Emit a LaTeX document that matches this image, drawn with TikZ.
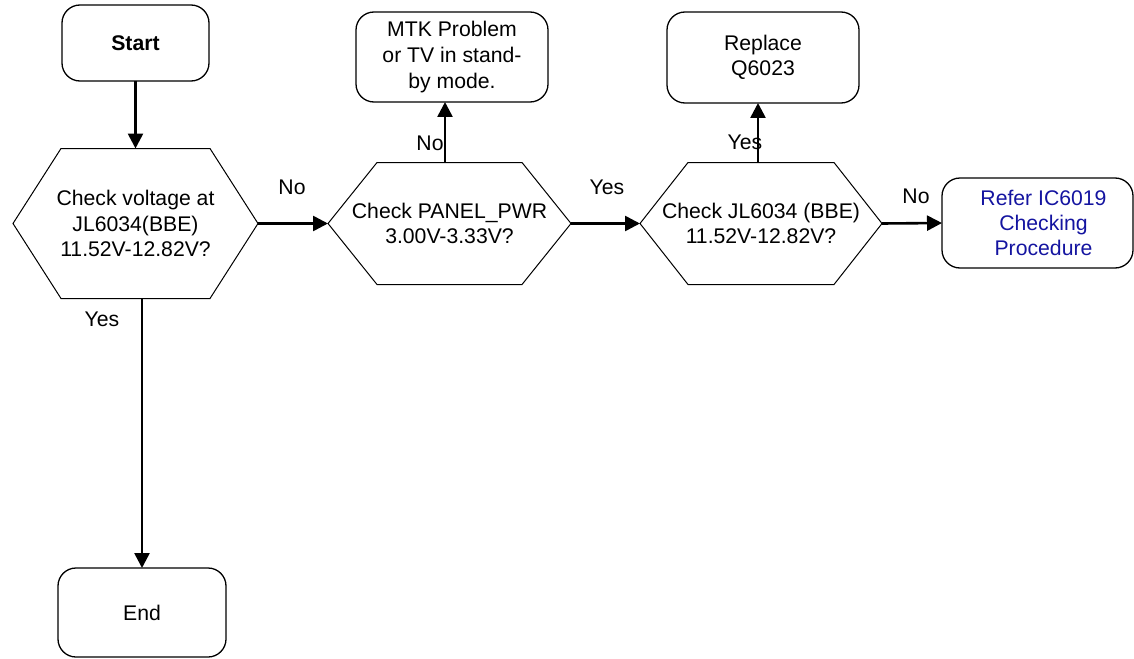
\documentclass[tikz,border=0pt]{standalone}
\usepackage{fontspec}
\setmainfont{Liberation Sans}
\usetikzlibrary{arrows.meta}
\definecolor{refblue}{RGB}{20,20,160}
\tikzset{
  txt/.style={font=\fontsize{10.6}{12.6}\selectfont, align=center},
  termbox/.style={draw, line width=0.65pt, rounded corners=9pt, txt, inner sep=0pt, outer sep=0pt},
  hexnode/.style={txt, inner sep=0pt, outer sep=0pt},
  hexline/.style={line width=0.5pt},
  flow/.style={line width=1.3pt, -{Triangle[length=7.5pt,width=7.5pt]}},
  lbl/.style={txt, inner sep=0pt},
}
% outline of a decision hexagon drawn around a named node: #1 node, #2 inset of the points
\newcommand\hexoutline[2]{%
  \draw[hexline] ([xshift=#2]#1.north west) -- ([xshift=-#2]#1.north east) -- (#1.east)
    -- ([xshift=-#2]#1.south east) -- ([xshift=#2]#1.south west) -- (#1.west) -- cycle;}
\begin{document}
\begin{tikzpicture}[x=0.5pt,y=-0.5pt]
\useasboundingbox (0,0) rectangle (1134,658);

% terminals and action boxes
\node[termbox, minimum width=73.5pt, minimum height=38pt, font=\fontsize{10.6}{12.6}\selectfont\bfseries]
  (start) at (135.5,43) {Start};
\node[termbox, minimum width=96pt, minimum height=45pt] (mtk) at (452,57)
  {MTK Problem\\[0.5pt] or TV in stand-\\[0.5pt] by mode.};
\node[termbox, minimum width=96pt, minimum height=45.5pt] (repl) at (763,57.5)
  {Replace\\ Q6023};
\node[termbox, minimum width=95.5pt, minimum height=45pt, text=refblue] (refer) at (1037.5,223)
  {\hspace{6pt}Refer IC6019\\\hspace{6pt}Checking\\\hspace{6pt}Procedure};
\node[termbox, minimum width=84pt, minimum height=44.5pt] (end) at (142,612.5) {End};

% decisions
\node[hexnode, minimum width=122.5pt, minimum height=75pt] (h1) at (135.5,223.5)
  {Check voltage at\\ JL6034(BBE)\\ 11.52V-12.82V?};
\node[hexnode, minimum width=121.5pt, minimum height=61pt] (h2) at (449.5,223.5)
  {Check PANEL\_PWR\\ 3.00V-3.33V?};
\node[hexnode, minimum width=121pt, minimum height=61pt] (h3) at (761,223.5)
  {Check JL6034 (BBE)\\ 11.52V-12.82V?};
\hexoutline{h1}{24pt}
\hexoutline{h2}{24.5pt}
\hexoutline{h3}{24pt}

% connectors
\draw[flow] (start) -- (h1);
\draw[flow] (h1.east) -- (h2.west);
\draw[flow] (h2.east) -- (h3.west);
\draw[flow] (h3.east) -- (refer.west);
\draw[flow] ([xshift=-2.25pt]h2.north) -- ([xshift=-2.25pt]h2.north |- mtk.south);
\draw[flow] ([xshift=-1.5pt]h3.north) -- ([xshift=-1.5pt]h3.north |- repl.south);
\draw[flow] (h1.south -| end.north) -- (end.north);

% branch labels
\node[lbl] (l1) at (292,187) {No};
\node[lbl] (l2) at (430,143) {No};
\node[lbl] (l3) at (607,187) {Yes};
\node[lbl] (l4) at (745,142) {Yes};
\node[lbl] (l5) at (916,196) {No};
\node[lbl] (l6) at (102,319) {Yes};
\end{tikzpicture}
\end{document}
